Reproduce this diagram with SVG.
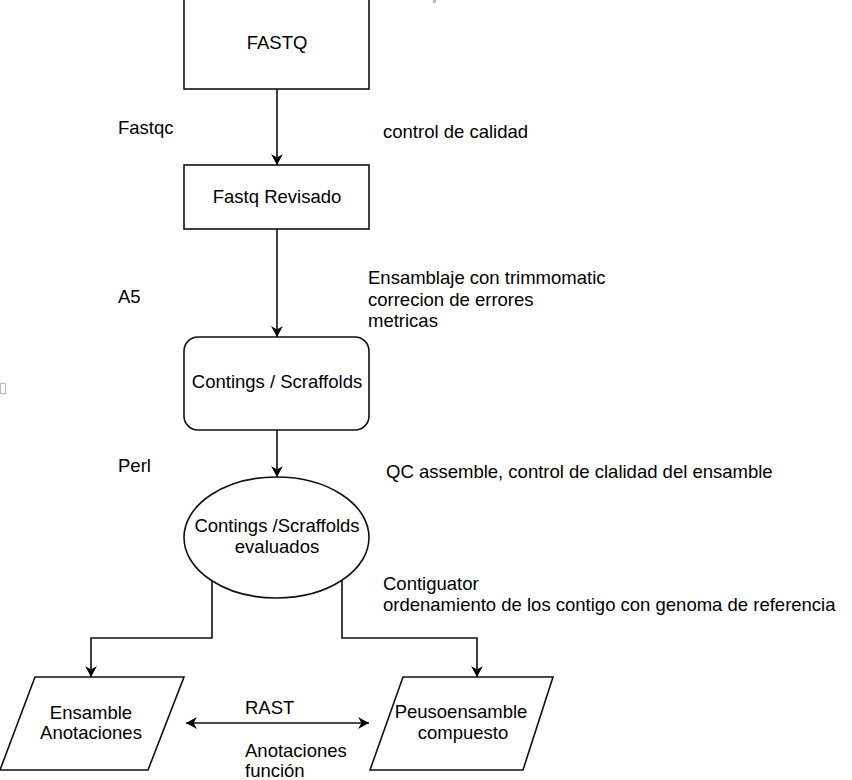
<svg xmlns="http://www.w3.org/2000/svg" width="852" height="780" viewBox="0 0 852 780">
<defs>
<marker id="arr" markerUnits="userSpaceOnUse" markerWidth="14" markerHeight="14" refX="11" refY="6" orient="auto-start-reverse" viewBox="0 0 14 14">
<path d="M0,0 L11,6 L0,12 L3.5,6 Z" fill="#000"/>
</marker>
</defs>
<style>
.shape{fill:#fff;stroke:#111;stroke-width:1.6}
.edge{fill:none;stroke:#111;stroke-width:1.6}
text{font-family:"Liberation Sans",Arial,sans-serif;font-size:18.5px;fill:#000}
.c{text-anchor:middle}
</style>
<rect width="852" height="780" fill="#fff"/>
<rect x="0.5" y="383.5" width="5" height="10" fill="none" stroke="#bbb" stroke-width="1.2"/>
<rect x="433" y="0" width="3" height="3" fill="#bbb"/>
<g id="connectors">
<line class="edge" x1="277" y1="89" x2="277" y2="165" marker-end="url(#arr)"/>
<line class="edge" x1="277" y1="229" x2="277" y2="337" marker-end="url(#arr)"/>
<line class="edge" x1="277" y1="430" x2="277" y2="477" marker-end="url(#arr)"/>
<polyline class="edge" points="212,581 212,638 91,638 91,677" marker-end="url(#arr)"/>
<polyline class="edge" points="342,581 342,638 477,638 477,677" marker-end="url(#arr)"/>
<line class="edge" x1="186" y1="723" x2="369" y2="723" marker-start="url(#arr)" marker-end="url(#arr)"/>
</g>
<g id="fastq">
<rect class="shape" x="184" y="-20" width="185" height="109"/>
<text class="c" x="277" y="49">FASTQ</text>
</g>
<g id="fastq-revisado">
<rect class="shape" x="184" y="165" width="185" height="64"/>
<text class="c" x="277" y="203">Fastq Revisado</text>
</g>
<g id="contings">
<rect class="shape" x="184" y="337" width="185" height="93" rx="14" ry="14"/>
<text class="c" x="277" y="388">Contings / Scraffolds</text>
</g>
<g id="contings-evaluados">
<ellipse class="shape" cx="276.5" cy="537.5" rx="92.5" ry="60.5"/>
<text class="c" x="277" y="532">Contings /Scraffolds</text>
<text class="c" x="277" y="553">evaluados</text>
</g>
<g id="ensamble-anotaciones">
<polygon class="shape" points="35,677 184,677 148,770 0,770"/>
<text class="c" x="91" y="719">Ensamble</text>
<text class="c" x="91" y="739">Anotaciones</text>
</g>
<g id="pseudoensamble">
<polygon class="shape" points="403,677 553,677 523,770 370,770"/>
<text class="c" x="461" y="718">Peusoensamble</text>
<text class="c" x="463" y="739">compuesto</text>
</g>
<g id="labels">
<text x="118" y="134">Fastqc</text>
<text x="383" y="138">control de calidad</text>
<text x="118" y="303">A5</text>
<text x="368" y="284">Ensamblaje con trimmomatic</text>
<text x="368" y="306">correcion de errores</text>
<text x="368" y="327">metricas</text>
<text x="118" y="472">Perl</text>
<text x="386" y="478">QC assemble, control de clalidad del ensamble</text>
<text x="383" y="590">Contiguator</text>
<text x="383" y="611">ordenamiento de los contigo con genoma de referencia</text>
<text x="245" y="714">RAST</text>
<text x="245" y="757">Anotaciones</text>
<text x="245" y="777">función</text>
</g>
</svg>
